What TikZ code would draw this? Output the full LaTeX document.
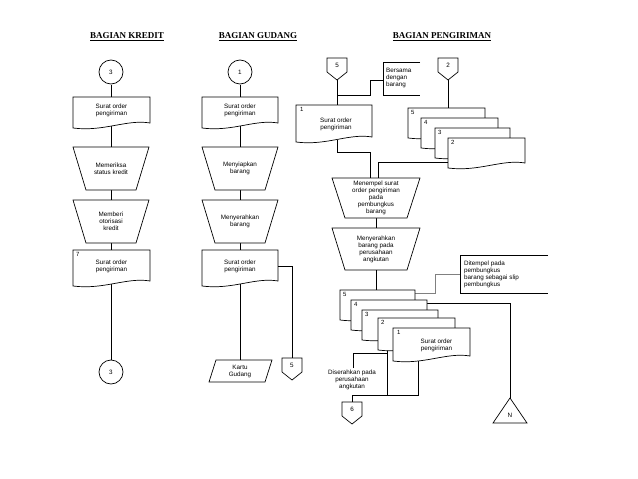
\documentclass[tikz,border=0pt]{standalone}
\usepackage{fontspec}
\setmainfont{Liberation Sans}
\newfontfamily\hdr{Liberation Serif}
\usetikzlibrary{shapes.geometric,calc}
\tikzset{x=1pt,y=-1pt,
 lbl/.style={font=\fontsize{6.3}{7}\selectfont,align=center,inner sep=0pt},
 num/.style={font=\fontsize{6}{6}\selectfont,inner sep=0pt,anchor=north west},
 hd/.style={font=\hdr\bfseries\fontsize{9}{10}\selectfont,inner sep=1pt},
 ln/.style={draw,line width=0.6pt},
 shp/.style={draw,line width=0.7pt,fill=white}}
\newcommand\docsh[5]{%
 \draw[shp] (#2,#3)--(#4,#3)--(#4,#5-5) .. controls ({#4-(#4-#2)*0.3},#5-9) and ({#2+(#4-#2)*0.4},#5+4) .. (#2,#5) -- cycle;
 \coordinate (#1) at ({(#2+#4)/2},{(#3+#5)/2-2});
 \coordinate (#1-n) at ({(#2+#4)/2},#3);
 \coordinate (#1-s) at ({(#2+#4)/2},#5-2);}
\newcommand\trap[6]{%
 \draw[shp] (#2-#5,#3)--(#2+#5,#3)--(#2+#6,#4)--(#2-#6,#4)--cycle;
 \coordinate (#1) at (#2,{(#3+#4)/2});
 \coordinate (#1-n) at (#2,#3); \coordinate (#1-s) at (#2,#4);}
\newcommand\offp[4]{%
 \draw[shp] (#2-10,#3)--(#2+10,#3)--(#2+10,#3+14)--(#2,#3+22)--(#2-10,#3+14)--cycle;
 \node[lbl] (#1) at (#2,#3+7) {#4};
 \coordinate (#1-n) at (#2,#3); \coordinate (#1-s) at (#2,#3+22);}
\begin{document}
\begin{tikzpicture}
\useasboundingbox (0,0) rectangle (638,479);
\fill[white] (0,0) rectangle (638,479);
\node[hd] (h1) at (127,37) {\underline{BAGIAN KREDIT}};
\node[hd] (h2) at (258,37) {\underline{BAGIAN GUDANG}};
\node[hd] (h3) at (442,37) {\underline{BAGIAN PENGIRIMAN}};

\draw[ln] (111,85)--(111,360);
\node[shp,circle,minimum size=24pt,lbl] (c3) at (111,72) {3};
\docsh{k1}{73}{97}{150}{128}
\node[lbl] at (k1) {Surat order\\pengiriman};
\trap{k2}{111}{147}{190}{38}{25}
\node[lbl] at (k2) {Memeriksa\\status kredit};
\trap{k3}{111}{200}{243}{38}{25}
\node[lbl] at (k3) {Memberi\\otorisasi\\kredit};
\docsh{k4}{73}{250}{150}{286}
\node[lbl] at (k4) {Surat order\\pengiriman};
\node[num] at (76,252) {7};
\node[shp,circle,minimum size=24pt,lbl] (c3b) at (111,372) {3};

\draw[ln] (240,85)--(240,362);
\node[shp,circle,minimum size=24pt,lbl] (c1) at (240,72) {1};
\docsh{g1}{202}{97}{278}{128}
\node[lbl] at (g1) {Surat order\\pengiriman};
\trap{g2}{240}{147}{190}{38}{25}
\node[lbl] at (g2) {Menyiapkan\\barang};
\trap{g3}{240}{200}{243}{38}{25}
\node[lbl] at (g3) {Menyerahkan\\barang};
\docsh{g4}{202}{250}{278}{286}
\node[lbl] at (g4) {Surat order\\pengiriman};
\draw[ln] (278,266)--(292,266)--(292,358);
\offp{o5}{292}{358}{5}
\draw[shp] (216,360)--(272,360)--(265,382)--(209,382)--cycle;
\node[lbl] (kg) at (240,371) {Kartu\\Gudang};

\draw[ln] (337,80)--(337,105);
\draw[ln] (337,95)--(370,95)--(370,80)--(383,80);
\draw[ln] (420,62)--(383,62)--(383,95)--(420,95);
\node[lbl,anchor=west,align=left] (bers) at (386,78) {Bersama\\dengan\\barang};
\offp{o5b}{337}{58}{5}
\docsh{p1}{296}{105}{372}{142}
\node[lbl] at ($(p1)+(2,3)$) {Surat order\\pengiriman};
\node[num] at (300,107) {1};
\draw[ln] (448,80)--(448,110);
\offp{o2}{448}{58}{2}
\docsh{s5}{408}{108}{485}{138}\node[num] at (411,110) {5};
\docsh{s4}{421}{118}{498}{148}\node[num] at (424,120) {4};
\docsh{s3}{435}{128}{510}{158}\node[num] at (438,130) {3};
\docsh{s2}{448}{138}{525}{168}\node[num] at (451,140) {2};
\draw[ln] (448,162)--(378,162)--(378,178);
\draw[ln] (337,140)--(337,152)--(370,152)--(370,178);
\draw[ln] (376,218)--(376,228);
\trap{t1}{376}{178}{218}{44}{31}
\node[lbl] at (t1) {Menempel surat\\order pengiriman\\pada\\pembungkus\\barang};
\trap{t2}{376}{228}{270}{44}{31}
\node[lbl] at (t2) {Menyerahkan\\barang pada\\perusahaan\\angkutan};
\draw[ln] (376,270)--(376,290);
\draw[ln] (387,340)--(387,395)--(418,395)--(418,355);
\draw[ln] (353,368)--(353,353)--(387,353);
\draw[ln] (387,395)--(352,395)--(352,402);
\draw[ln] (427,303)--(510,303)--(510,400);
\draw[ln,gray] (415,293)--(435,293)--(435,274)--(460,274);
\docsh{d5}{340}{290}{415}{320}\node[num] at (343,292) {5};
\docsh{d4}{351}{300}{427}{330}\node[num] at (354,302) {4};
\docsh{d3}{362}{310}{438}{340}\node[num] at (365,312) {3};
\docsh{d2}{378}{318}{455}{350}\node[num] at (381,320) {2};
\docsh{d1}{393}{328}{470}{361}\node[num] at (397,330) {1};
\node[lbl] at ($(d1)+(5,3)$) {Surat order\\pengiriman};
\node[lbl,fill=white,inner sep=1pt] (dis) at (352,380) {Diserahkan pada\\perusahaan\\angkutan};
\offp{o6}{352}{402}{6}
\draw[ln] (548,255)--(460,255)--(460,293)--(548,293);
\node[lbl,anchor=west,align=left] (dit) at (464,274) {Ditempel pada\\pembungkus\\barang sebagai slip\\pembungkus};
\draw[shp] (510,398)--(527,423)--(493,423)--cycle;
\node[lbl] (tn) at (510,415) {N};
\end{tikzpicture}
\end{document}
